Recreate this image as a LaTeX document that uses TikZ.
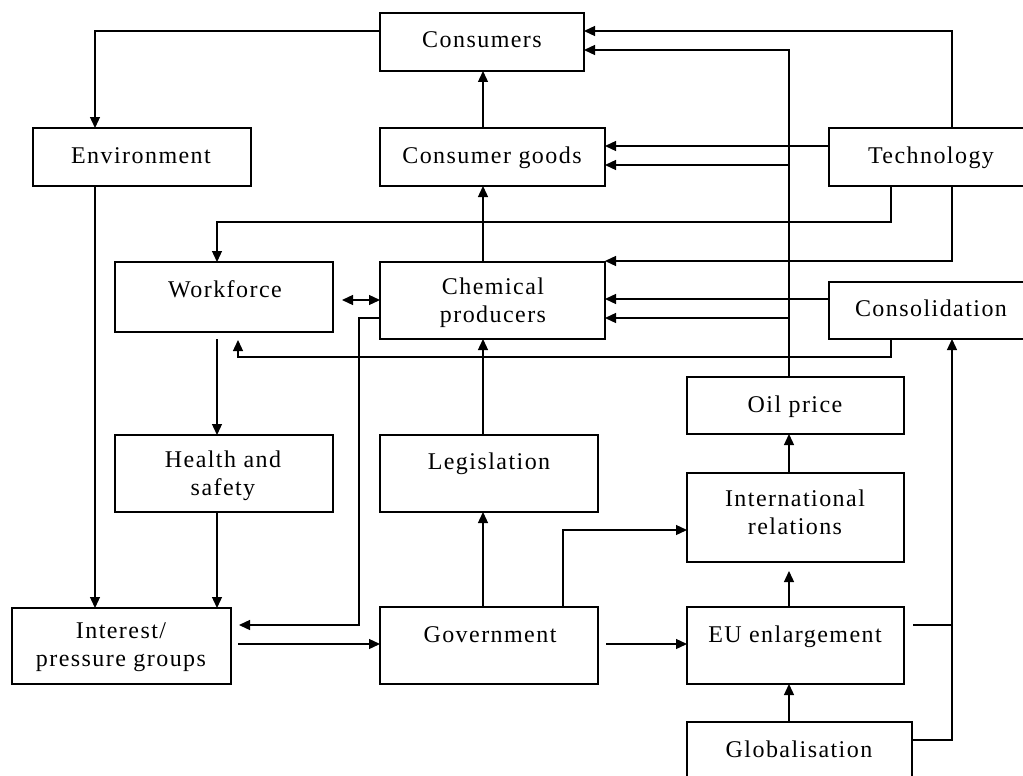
\documentclass[tikz,border=0pt]{standalone}
\usepackage{fontspec}
\setmainfont[LetterSpace=6]{Liberation Serif}
\usetikzlibrary{arrows.meta}
\begin{document}
\begin{tikzpicture}[x=1pt,y=-1pt,
  box/.style={draw, rectangle, line width=1.3pt, inner sep=0pt, outer sep=0pt, anchor=north west},
  lbl/.style={inner sep=0pt, font=\fontsize{24}{28}\selectfont, align=center, anchor=base},
  conn/.style={line width=1.3pt},
  arr/.style={conn, -{Triangle[length=11pt,width=10pt]}},
  darr/.style={conn, {Triangle[length=11pt,width=10pt]}-{Triangle[length=11pt,width=10pt]}}]
\useasboundingbox (0,0) rectangle (1023,776);
\fill[white] (0,0) rectangle (1023,776);
\clip (0,0) rectangle (1023,776);
% boxes
\node[box, minimum width=204pt, minimum height=58pt] (cons) at (380,13) {};
\node[box, minimum width=218pt, minimum height=58pt] (env) at (33,128) {};
\node[box, minimum width=225pt, minimum height=58pt] (cg) at (380,128) {};
\node[box, minimum width=220pt, minimum height=58pt] (tech) at (829,128) {};
\node[box, minimum width=218pt, minimum height=70pt] (wf) at (115,262) {};
\node[box, minimum width=225pt, minimum height=77pt] (chem) at (380,262) {};
\node[box, minimum width=220pt, minimum height=57pt] (cdn) at (829,282) {};
\node[box, minimum width=217pt, minimum height=57pt] (oil) at (687,377) {};
\node[box, minimum width=218pt, minimum height=77pt] (hs) at (115,435) {};
\node[box, minimum width=218pt, minimum height=77pt] (leg) at (380,435) {};
\node[box, minimum width=217pt, minimum height=89pt] (ir) at (687,473) {};
\node[box, minimum width=219pt, minimum height=76pt] (ipg) at (12,608) {};
\node[box, minimum width=218pt, minimum height=77pt] (gov) at (380,607) {};
\node[box, minimum width=217pt, minimum height=77pt] (eu) at (687,607) {};
\node[box, minimum width=225pt, minimum height=70pt] (glob) at (687,722) {};
% labels (base = baseline of the last line)
\node[lbl] (consT) at (482,48) {Consumers};
\node[lbl] (envT) at (141,163) {Environment};
\node[lbl] (cgT) at (492,163) {Consumer goods};
\node[lbl] (techT) at (931,163) {Technology};
\node[lbl] (wfT) at (225,297) {Workforce};
\node[lbl] (chemT) at (493,322) {Chemical\\producers};
\node[lbl] (cdnT) at (931,316) {Consolidation};
\node[lbl] (oilT) at (795,412) {Oil price};
\node[lbl] (hsT) at (223,495) {Health and\\safety};
\node[lbl] (legT) at (489,469) {Legislation};
\node[lbl] (irT) at (795,534) {International\\relations};
\node[lbl] (ipgT) at (121,666) {Interest/\\pressure groups};
\node[lbl] (govT) at (490,642) {Government};
\node[lbl] (euT) at (795,642) {EU enlargement};
\node[lbl] (globT) at (799,757) {Globalisation};
% junction points
\coordinate (j1) at (789,165);
\coordinate (j2) at (789,318);
\coordinate (j3) at (952,625);
% connectors
\draw[arr] (cons.west |- 0,31) -| (env.north -| 95,0);
\draw[arr] (tech.north -| 952,0) |- (cons.east |- 0,31);
\draw[arr] (oil.north -| 789,0) |- (cons.east |- 0,50);
\draw[arr] (cg.north -| 483,0) -- (cons.south -| 483,0);
\draw[arr] (tech.west |- 0,146) -- (cg.east |- 0,146);
\draw[arr] (j1) -- (cg.east |- j1);
\draw[arr] (chem.north -| 483,0) -- (cg.south -| 483,0);
\draw[arr] (tech.south -| 891,0) |- (217,222) -- (wf.north -| 217,0);
\draw[arr] (tech.south -| 952,0) |- (chem.east |- 0,261);
\draw[arr] (cdn.west |- 0,299) -- (chem.east |- 0,299);
\draw[arr] (j2) -- (chem.east |- j2);
\draw[arr, shorten >=8pt] (cdn.south -| 891,0) |- (238,357) -- (wf.south -| 238,0);
\draw[darr, shorten <=9pt] (wf.east |- 0,300) -- (chem.west |- 0,300);
\draw[arr, shorten >=8pt] (chem.west |- 0,318) -| (359,625) -- (ipg.east |- 0,625);
\draw[arr, shorten <=7pt] (wf.south -| 217,0) -- (hs.north -| 217,0);
\draw[arr] (env.south -| 95,0) -- (ipg.north -| 95,0);
\draw[arr] (hs.south -| 217,0) -- (ipg.north -| 217,0);
\draw[arr] (leg.north -| 483,0) -- (chem.south -| 483,0);
\draw[arr] (gov.north -| 483,0) -- (leg.south -| 483,0);
\draw[arr, shorten <=7pt] (ipg.east |- 0,644) -- (gov.west |- 0,644);
\draw[arr] (gov.north -| 563,0) |- (ir.west |- 0,530);
\draw[arr, shorten <=8pt] (gov.east |- 0,644) -- (eu.west |- 0,644);
\draw[arr, shorten >=9pt] (eu.north -| 789,0) -- (ir.south -| 789,0);
\draw[arr] (ir.north -| 789,0) -- (oil.south -| 789,0);
\draw[arr] (glob.north -| 789,0) -- (eu.south -| 789,0);
\draw[arr] (glob.east |- 0,740) -| (cdn.south -| 952,0);
\draw[conn, shorten <=9pt] (eu.east |- j3) -- (j3);
\end{tikzpicture}
\end{document}
